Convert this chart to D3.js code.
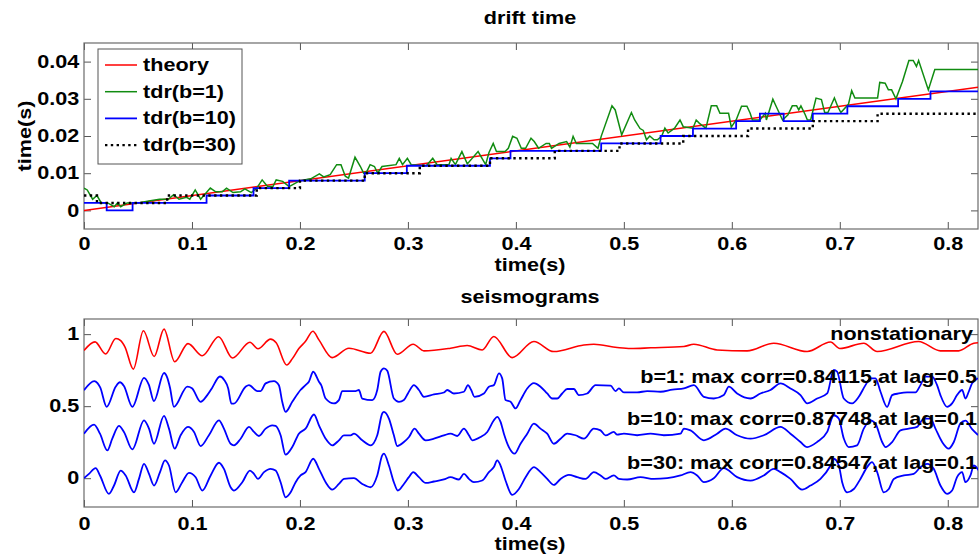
<!DOCTYPE html>
<html>
<head>
<meta charset="utf-8">
<script src="https://cdnjs.cloudflare.com/ajax/libs/d3/7.8.5/d3.min.js"></script>
<style>
body { margin: 0; background: #fff; }
text { font-family: "Liberation Sans", Arial, sans-serif; font-weight: bold; fill: #000; }
</style>
</head>
<body>
<script>
// ---------------------- values ----------------------
var tMax = 0.828;
var xTicks = [0, 0.1, 0.2, 0.3, 0.4, 0.5, 0.6, 0.7, 0.8];
var driftTicks = [0, 0.01, 0.02, 0.03, 0.04];
var seisTicks = [0, 0.5, 1];

var legendNames = ["theory", "tdr(b=1)", "tdr(b=10)", "tdr(b=30)"];
var seisNotes = ["nonstationary",
                 "b=1: max corr=0.84115,at lag=0.5",
                 "b=10: max corr=0.87748,at lag=0.1",
                 "b=30: max corr=0.84547,at lag=0.1"];

// drift time, theory
var theoryT = [0, 0.828];
var theoryY = [0, 0.0331];

// drift time, tdr(b=1)
var tdr1T = [0,0.003,0.008,0.012,0.016,0.022,0.028,0.031,0.034,0.04,
             0.05,0.06,0.07,0.078,0.083,0.088,0.095,0.098,0.103,0.108,
             0.117,0.122,0.128,0.132,0.138,0.145,0.149,0.155,0.16,0.165,
             0.17,0.175,0.178,0.184,0.19,0.2,0.21,0.218,0.222,0.228,
             0.234,0.238,0.242,0.245,0.251,0.256,0.259,0.262,0.265,0.269,
             0.272,0.276,0.289,0.292,0.295,0.2995,0.303,0.317,0.323,0.327,
             0.338,0.34,0.344,0.35,0.355,0.365,0.372,0.375,0.379,0.382,
             0.39,0.393,0.397,0.401,0.405,0.409,0.414,0.417,0.421,0.428,
             0.431,0.433,0.44,0.447,0.45,0.453,0.456,0.462,0.471,0.476,
             0.479,0.489,0.492,0.498,0.507,0.51,0.515,0.518,0.521,0.524,
             0.528,0.531,0.535,0.538,0.541,0.547,0.552,0.555,0.564,0.567,
             0.57,0.576,0.581,0.586,0.589,0.597,0.5995,0.604,0.609,0.614,
             0.617,0.619,0.626,0.631,0.632,0.634,0.638,0.641,0.647,0.652,
             0.656,0.66,0.662,0.664,0.668,0.67,0.673,0.678,0.683,0.686,
             0.689,0.695,0.698,0.701,0.708,0.711,0.714,0.735,0.737,0.742,
             0.745,0.748,0.752,0.758,0.764,0.768,0.771,0.773,0.782,0.788,
             0.828];
var tdr1Y = [0.006,0.0055,0.003,0.004,0.002,0.002,0.001,0.002,0.001,0.002,
             0.002,0.0025,0.003,0.003,0.0042,0.003,0.0035,0.003,0.0055,0.003,
             0.006,0.005,0.005,0.006,0.0048,0.005,0.0058,0.0048,0.006,0.0082,
             0.0064,0.0064,0.0082,0.0078,0.0064,0.008,0.0085,0.0098,0.009,0.0096,
             0.0123,0.0123,0.0092,0.0087,0.0143,0.0118,0.010,0.0105,0.0123,0.0118,
             0.010,0.0118,0.0123,0.014,0.0123,0.014,0.0123,0.012,0.014,0.0123,
             0.0123,0.014,0.0123,0.0158,0.0125,0.0158,0.0123,0.0155,0.018,0.0158,
             0.0158,0.0167,0.0199,0.0194,0.0167,0.0167,0.0194,0.0185,0.0167,0.018,
             0.018,0.0167,0.018,0.0185,0.017,0.0199,0.018,0.018,0.018,0.0167,
             0.0199,0.0281,0.027,0.0203,0.0263,0.0243,0.022,0.0215,0.019,0.020,
             0.019,0.019,0.0199,0.0221,0.0208,0.0221,0.0243,0.0225,0.0221,0.0243,
             0.0234,0.0221,0.0281,0.0281,0.0261,0.0261,0.0224,0.0243,0.028,0.028,
             0.0261,0.0243,0.0243,0.0261,0.0243,0.0261,0.0299,0.028,0.0243,0.0257,
             0.0281,0.0281,0.027,0.0281,0.0257,0.0243,0.0243,0.0302,0.0298,0.0263,
             0.0263,0.0302,0.028,0.0263,0.0285,0.0322,0.0302,0.0302,0.0344,0.0342,
             0.0324,0.0324,0.030,0.0346,0.0403,0.0403,0.0387,0.0403,0.0324,0.0379,
             0.0379];

// drift time, tdr(b=10) and tdr(b=30): step values
var tdr10T = [0,0.021,0.045,0.1135,0.157,0.19,0.26,0.299,0.376,0.395,0.479,
              0.534,0.564,0.604,0.626,0.648,0.675,0.707,0.754,0.784,0.828];
var tdr10Y = [0.002,0,0.002,0.004,0.006,0.008,0.010,0.012,0.014,0.016,0.018,
              0.020,0.022,0.024,0.026,0.024,0.026,0.028,0.030,0.032,0.032];
var tdr30T = [0,0.012,0.077,0.16,0.2,0.26,0.311,0.376,0.436,0.496,0.555,0.615,0.675,0.735,0.828];
var tdr30Y = [0.004,0.002,0.004,0.006,0.008,0.010,0.012,0.014,0.016,0.018,0.020,0.022,0.024,0.026,0.026];

// seismograms, nonstationary (red)
var seisRedT = [0,0.0102,0.02,0.0295,0.034,0.038,0.0457,0.055,0.065,0.0741,
                0.084,0.0963,0.1096,0.1247,0.1375,0.1537,0.1611,0.1728,0.178,0.1877,
                0.193,0.199,0.2052,0.212,0.2176,0.2299,0.2454,0.2654,0.2778,0.2901,
                0.3049,0.3148,0.3395,0.3549,0.3688,0.3796,0.3966,0.4167,0.435,0.463,
                0.4722,0.4938,0.5062,0.525,0.5556,0.5648,0.5864,0.6142,0.6389,0.6698,
                0.6914,0.7,0.7222,0.7346,0.773,0.7932,0.81,0.8241,0.828];
var seisRedY = [0.886,0.946,0.862,0.97,0.955,0.91,0.757,1.023,0.845,1.035,
                0.808,0.934,0.85,0.982,0.834,0.944,0.898,0.965,0.94,0.786,
                0.83,0.9,0.95,1.02,0.96,0.837,0.902,0.867,1.019,0.86,
                0.93,0.884,0.902,0.921,0.89,0.984,0.837,0.949,0.879,0.925,
                0.93,0.907,0.9,0.905,0.914,0.93,0.89,0.884,0.937,0.879,
                0.945,0.9,0.937,0.879,0.949,0.884,0.884,0.937,0.94];

// seismograms, b=1
var seisB1T = [0,0.0095,0.0125,0.015,0.021,0.0293,0.0333,0.037,0.0448,0.0556,
               0.06,0.0648,0.0741,0.077,0.0796,0.0833,0.0957,0.1,0.108,0.114,
               0.1185,0.1259,0.13,0.1335,0.1365,0.1389,0.1497,0.1528,0.1605,0.1636,
               0.1682,0.1759,0.1805,0.1836,0.1867,0.1929,0.2005,0.2052,0.2083,0.2123,
               0.2176,0.2197,0.2238,0.2315,0.2361,0.2392,0.2515,0.2546,0.2577,0.267,
               0.2716,0.2747,0.2778,0.2809,0.287,0.2917,0.2963,0.3,0.3056,0.3102,
               0.3148,0.3241,0.3333,0.3364,0.3426,0.3519,0.3556,0.3586,0.3617,0.3704,
               0.375,0.3796,0.3843,0.3873,0.3904,0.3951,0.3997,0.4043,0.4105,0.4167,
               0.4228,0.429,0.4336,0.4383,0.4429,0.4475,0.4537,0.4583,0.466,0.4738,
               0.4877,0.4923,0.4954,0.5,0.5123,0.5216,0.534,0.545,0.5556,0.5648,
               0.5741,0.5833,0.5926,0.5972,0.6049,0.6173,0.6265,0.6358,0.6451,0.6543,
               0.6636,0.6698,0.679,0.6883,0.6944,0.6975,0.7037,0.7114,0.7176,0.7238,
               0.7284,0.733,0.7377,0.7438,0.7485,0.7546,0.7623,0.7701,0.7747,0.7793,
               0.7855,0.7901,0.7932,0.7994,0.804,0.8086,0.8133,0.8164,0.8194,0.8225,
               0.828];
var seisB1Y = [0.61,0.674,0.66,0.63,0.495,0.635,0.666,0.64,0.495,0.697,
               0.65,0.535,0.73,0.70,0.63,0.495,0.636,0.625,0.53,0.575,
               0.625,0.706,0.68,0.625,0.518,0.518,0.635,0.646,0.605,0.605,
               0.658,0.674,0.645,0.53,0.46,0.53,0.612,0.646,0.67,0.739,
               0.67,0.646,0.553,0.519,0.542,0.605,0.605,0.612,0.553,0.542,
               0.612,0.739,0.762,0.745,0.553,0.53,0.542,0.588,0.646,0.612,
               0.565,0.581,0.595,0.612,0.588,0.6,0.646,0.612,0.565,0.588,
               0.635,0.646,0.728,0.693,0.542,0.53,0.484,0.542,0.623,0.66,
               0.635,0.588,0.553,0.553,0.588,0.619,0.619,0.577,0.588,0.646,
               0.642,0.605,0.623,0.595,0.595,0.605,0.6,0.615,0.623,0.646,
               0.565,0.553,0.577,0.635,0.588,0.553,0.588,0.612,0.658,0.623,
               0.577,0.519,0.553,0.588,0.751,0.74,0.553,0.519,0.565,0.646,
               0.693,0.693,0.6,0.495,0.577,0.588,0.595,0.595,0.646,0.705,
               0.705,0.646,0.577,0.495,0.519,0.577,0.612,0.553,0.6,0.658,
               0.693];

// seismograms, b=10
var seisB10T = [0,0.0093,0.0148,0.0216,0.0262,0.0324,0.037,0.0448,0.0556,0.0602,
                0.0648,0.0741,0.0787,0.084,0.0895,0.0963,0.1019,0.108,0.1157,0.125,
                0.1296,0.1358,0.1389,0.1451,0.1528,0.1574,0.162,0.1682,0.1744,0.1775,
                0.1821,0.1867,0.1929,0.199,0.2052,0.213,0.2176,0.2238,0.2299,0.2361,
                0.2407,0.2469,0.25,0.2577,0.2654,0.2716,0.2762,0.2778,0.2824,0.287,
                0.2901,0.2963,0.301,0.3062,0.3102,0.3164,0.3241,0.3333,0.3395,0.3457,
                0.3519,0.3565,0.3596,0.3673,0.3735,0.3796,0.3827,0.3858,0.3889,0.3935,
                0.3988,0.4043,0.4105,0.4167,0.4228,0.429,0.4352,0.4414,0.4475,0.4552,
                0.463,0.4722,0.4784,0.483,0.4907,0.4938,0.5,0.5123,0.5247,0.537,
                0.5525,0.5556,0.5617,0.5741,0.5864,0.5941,0.6049,0.6173,0.6296,0.6451,
                0.6543,0.6636,0.6698,0.679,0.6883,0.6944,0.699,0.7037,0.7083,0.716,
                0.7222,0.7284,0.733,0.7392,0.7423,0.7485,0.7562,0.7639,0.7716,0.7778,
                0.784,0.7886,0.7948,0.8009,0.8056,0.8117,0.8164,0.8225,0.828];
var seisB10Y = [0.309,0.372,0.309,0.193,0.275,0.363,0.321,0.2,0.402,0.344,
                0.239,0.433,0.344,0.205,0.298,0.356,0.321,0.223,0.298,0.402,
                0.344,0.239,0.228,0.274,0.356,0.321,0.293,0.344,0.367,0.363,
                0.298,0.163,0.216,0.309,0.344,0.442,0.367,0.274,0.228,0.263,
                0.297,0.297,0.309,0.263,0.228,0.298,0.449,0.46,0.414,0.298,
                0.223,0.251,0.286,0.344,0.309,0.263,0.274,0.297,0.309,0.293,
                0.344,0.298,0.263,0.286,0.321,0.402,0.426,0.391,0.309,0.216,
                0.17,0.239,0.309,0.379,0.344,0.309,0.239,0.274,0.309,0.298,
                0.274,0.344,0.332,0.297,0.321,0.302,0.309,0.298,0.309,0.298,
                0.309,0.344,0.332,0.263,0.309,0.344,0.298,0.274,0.298,0.356,
                0.309,0.251,0.216,0.251,0.321,0.437,0.414,0.275,0.216,0.228,
                0.344,0.402,0.379,0.251,0.216,0.251,0.332,0.344,0.356,0.414,
                0.414,0.344,0.251,0.205,0.251,0.38,0.4,0.34,0.3];

// seismograms, b=30
var seisB30T = [0,0.0046,0.0108,0.0148,0.0231,0.0278,0.034,0.0386,0.0463,0.0509,
                0.0556,0.0602,0.0648,0.0704,0.075,0.0787,0.0849,0.091,0.0972,0.1034,
                0.1096,0.1173,0.125,0.1296,0.1358,0.1389,0.1466,0.1537,0.1574,0.1611,
                0.1667,0.1728,0.1775,0.1821,0.1867,0.1914,0.196,0.2006,0.2052,0.2123,
                0.2176,0.2238,0.2299,0.2361,0.2407,0.25,0.2577,0.2654,0.2716,0.2762,
                0.2778,0.2824,0.287,0.2907,0.2963,0.3009,0.3049,0.3102,0.3164,0.3241,
                0.3333,0.3395,0.3472,0.3519,0.3565,0.3611,0.3688,0.375,0.3796,0.3827,
                0.3858,0.3904,0.3966,0.4028,0.409,0.4167,0.4228,0.429,0.4352,0.4414,
                0.4491,0.4568,0.4645,0.4722,0.4784,0.483,0.4907,0.4954,0.5031,0.5154,
                0.5278,0.5401,0.5525,0.5617,0.5679,0.5741,0.5833,0.5926,0.6049,0.6173,
                0.6296,0.6389,0.6451,0.6543,0.6651,0.6728,0.6821,0.6914,0.6944,0.6991,
                0.7022,0.7068,0.713,0.7191,0.7253,0.7299,0.7346,0.7407,0.7454,0.75,
                0.7593,0.7685,0.7747,0.7809,0.787,0.7932,0.7994,0.804,0.8086,0.8133,
                0.8164,0.821,0.8241,0.8287];
var seisB30Y = [0,0.03,0.07,0.019,-0.109,-0.051,0.053,0.019,-0.098,-0.005,
                0.1,0.03,-0.051,0.042,0.123,0.088,-0.098,-0.028,0.037,0.007,
                -0.086,0.019,0.107,0.065,-0.063,-0.086,-0.028,0.053,0.03,-0.005,
                0.042,0.065,0.053,-0.028,-0.133,-0.098,-0.028,0.019,0.042,0.135,
                0.065,-0.028,-0.079,-0.04,-0.005,0,-0.04,-0.063,0.019,0.158,
                0.17,0.088,-0.028,-0.086,-0.04,0.007,0.042,0.007,-0.033,-0.023,
                -0.009,0.007,-0.009,0.03,-0.005,-0.028,-0.016,0.042,0.077,0.123,
                0.088,-0.016,-0.116,-0.075,0.007,0.077,0.042,-0.005,-0.047,-0.005,
                0.023,0.007,-0.005,0.042,0.019,-0.005,0.019,-0.005,-0.009,0.007,
                -0.005,0,0.019,0.042,0.019,-0.028,-0.001,0.07,0.007,-0.017,
                0.019,0.065,0.042,-0.005,-0.079,-0.051,-0.005,0.088,0.135,0.088,
                -0.028,-0.098,-0.075,-0.005,0.077,0.112,0.042,-0.098,-0.075,-0.005,
                0.019,0.03,0.077,0.1,0.065,-0.051,-0.109,-0.086,0.007,0.042,
                -0.028,0.019,0.088,0.053];

// ---------------------- setup ----------------------
var W = 979, H = 557;
var sx = 1.2;   // the figure's text is stretched sideways
var boxTop = {x0: 84, x1: 978, y0: 43, y1: 229};
var boxBot = {x0: 84, x1: 978, y0: 319, y1: 507};

var svg = d3.select("body")
     .append("svg")
     .attr("width", W)
     .attr("height", H)
     .style("display", "block");

svg.append("rect").attr("width", W).attr("height", H).attr("fill", "#fff");

function pts(t, y) {
     return t.map(function(d, i) { return [d, y[i]]; });
}

function wideText(str, x, y, anchor, rot) {
     return svg.append("text")
          .attr("transform", "translate(" + x + "," + y + ")" + (rot ? " rotate(" + rot + ")" : "") + " scale(" + sx + ",1)")
          .attr("text-anchor", anchor)
          .style("font-size", "18px")
          .text(str);
}

function drawAxes(box, x, y, yTicks, xPad, id) {
     var g = svg.append("g").attr("color", "#555");

     g.append("g")
          .attr("transform", "translate(0," + box.y1 + ")")
          .call(d3.axisBottom(x).tickValues(xTicks).tickSizeInner(-7).tickSizeOuter(0).tickPadding(xPad).tickFormat(String));
     g.append("g")
          .attr("transform", "translate(0," + box.y0 + ")")
          .call(d3.axisTop(x).tickValues(xTicks).tickSizeInner(-7).tickSizeOuter(0).tickFormat(""));
     g.append("g")
          .attr("transform", "translate(" + box.x0 + ",0)")
          .call(d3.axisLeft(y).tickValues(yTicks).tickSizeInner(-7).tickSizeOuter(0).tickPadding(4).tickFormat(String));
     g.append("g")
          .attr("transform", "translate(" + box.x1 + ",0)")
          .call(d3.axisRight(y).tickValues(yTicks).tickSizeInner(-7).tickSizeOuter(0).tickFormat(""));

     g.selectAll(".domain").remove();
     g.selectAll(".tick line").attr("stroke-width", 1);
     g.selectAll("text")
          .attr("transform", "scale(" + sx + ",1)")
          .style("font-size", "18px")
          .style("fill", "#000");

     g.append("rect")
          .attr("x", box.x0).attr("y", box.y0)
          .attr("width", box.x1 - box.x0).attr("height", box.y1 - box.y0)
          .attr("fill", "none").attr("stroke", "#6b6b6b").attr("stroke-width", 1.2);

     svg.append("clipPath").attr("id", id)
          .append("rect")
          .attr("x", box.x0).attr("y", box.y0)
          .attr("width", box.x1 - box.x0).attr("height", box.y1 - box.y0);
}

// ---------------------- drift time ----------------------
var xTop = d3.scaleLinear().domain([0, tMax]).range([boxTop.x0, boxTop.x1]);
var yTop = d3.scaleLinear().domain([-0.005, 0.045]).range([boxTop.y1, boxTop.y0]);

drawAxes(boxTop, xTop, yTop, driftTicks, 8, "clipTop");

var lineTop = d3.line().x(function(d) { return xTop(d[0]); }).y(function(d) { return yTop(d[1]); });
var stepTop = d3.line().curve(d3.curveStepAfter).x(function(d) { return xTop(d[0]); }).y(function(d) { return yTop(d[1]); });

var gTop = svg.append("g").attr("clip-path", "url(#clipTop)");
gTop.append("path").attr("d", lineTop(pts(theoryT, theoryY)))
     .attr("fill", "none").attr("stroke", "#ff0000").attr("stroke-width", 1.5);
gTop.append("path").attr("d", lineTop(pts(tdr1T, tdr1Y)))
     .attr("fill", "none").attr("stroke", "#118c11").attr("stroke-width", 1.5);
gTop.append("path").attr("d", stepTop(pts(tdr10T, tdr10Y)))
     .attr("fill", "none").attr("stroke", "#0000ff").attr("stroke-width", 1.8);
gTop.append("path").attr("d", stepTop(pts(tdr30T, tdr30Y)))
     .attr("fill", "none").attr("stroke", "#000").attr("stroke-width", 2.4).attr("stroke-dasharray", "2.4,3.4");

// legend
var legStyles = [
     {stroke: "#ff0000", width: 1.5, dash: null},
     {stroke: "#118c11", width: 1.5, dash: null},
     {stroke: "#0000ff", width: 1.8, dash: null},
     {stroke: "#000", width: 2.4, dash: "2.4,3.4"}
];
svg.append("rect")
     .attr("x", 98).attr("y", 49).attr("width", 144).attr("height", 115)
     .attr("fill", "#fff").attr("stroke", "#555").attr("stroke-width", 1);
legendNames.forEach(function(name, i) {
     var ly = 65 + i * 26.7;
     svg.append("line")
          .attr("x1", 105).attr("x2", 137).attr("y1", ly).attr("y2", ly)
          .attr("stroke", legStyles[i].stroke)
          .attr("stroke-width", legStyles[i].width)
          .attr("stroke-dasharray", legStyles[i].dash);
     wideText(name, 143, ly + 6, "start");
});

wideText("drift time", 530, 24, "middle");
wideText("time(s)", 530, 271, "middle");
wideText("time(s)", 31, 136, "middle", -90);

// ---------------------- seismograms ----------------------
var xBot = d3.scaleLinear().domain([0, tMax]).range([boxBot.x0, boxBot.x1]);
var yBot = d3.scaleLinear().domain([-0.2, 1.105]).range([boxBot.y1, boxBot.y0]);

drawAxes(boxBot, xBot, yBot, seisTicks, 10, "clipBot");

var lineBot = d3.line().curve(d3.curveMonotoneX).x(function(d) { return xBot(d[0]); }).y(function(d) { return yBot(d[1]); });

var gBot = svg.append("g").attr("clip-path", "url(#clipBot)");
gBot.append("path").attr("d", lineBot(pts(seisRedT, seisRedY)))
     .attr("fill", "none").attr("stroke", "#ff0000").attr("stroke-width", 1.6);
[[seisB1T, seisB1Y], [seisB10T, seisB10Y], [seisB30T, seisB30Y]].forEach(function(s) {
     gBot.append("path").attr("d", lineBot(pts(s[0], s[1])))
          .attr("fill", "none").attr("stroke", "#0000ff").attr("stroke-width", 1.8);
});

wideText(seisNotes[0], 973, 340, "end");
wideText(seisNotes[1], 977, 383, "end");
wideText(seisNotes[2], 977, 425, "end");
wideText(seisNotes[3], 977, 469, "end");

wideText("seismograms", 530, 303, "middle");
wideText("time(s)", 530, 550, "middle");
</script>
</body>
</html>
